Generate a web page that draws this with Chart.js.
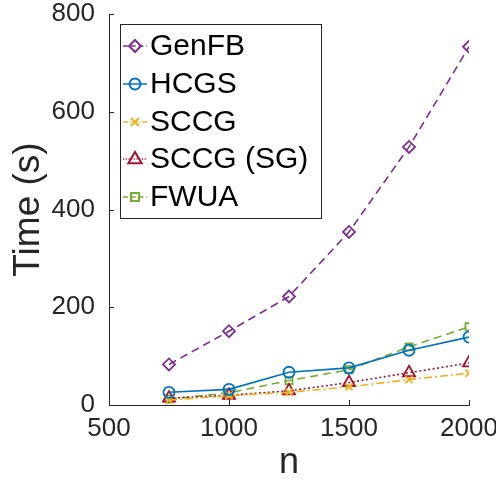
<!DOCTYPE html>
<html>
<head>
<meta charset="utf-8">
<script src="https://cdn.jsdelivr.net/npm/chart.js@4"></script>
<style>
  html, body { margin: 0; padding: 0; background: #fff; }
  #wrap { width: 496px; height: 485px; }
</style>
</head>
<body>
<div id="wrap"><canvas id="timeChart" width="496" height="485"></canvas></div>
<script>
const nValues = [750, 1000, 1250, 1500, 1750, 2000];
const genFB = [83, 151, 222, 354, 528, 733];
const hcgs = [26, 32, 67, 76, 112, 139];
const sccg = [10, 19, 26, 37, 52, 65];
const sccgSG = [14, 20, 29, 46, 66, 86];
const fwua = [12, 25, 50, 72, 119, 160];
const xTicks = [500, 1000, 1500, 2000];
const yTicks = [0, 200, 400, 600, 800];

const FONT = '"Liberation Sans", Arial, Helvetica, sans-serif';

const series = [
    { label: 'GenFB', data: genFB, color: '#7E2F8E', dash: [8, 5], point: 'rectRot', r: 6 },
    { label: 'HCGS', data: hcgs, color: '#0072BD', dash: [], point: 'circle', r: 5.5 },
    { label: 'SCCG', data: sccg, color: '#EDB120', dash: [8, 3, 2, 3], point: 'crossRot', r: 5 },
    { label: 'SCCG (SG)', data: sccgSG, color: '#A2142F', dash: [2, 2.5], point: 'triangle', r: 7 },
    { label: 'FWUA', data: fwua, color: '#77AC30', dash: [8, 5], point: 'rect', r: 5 }
];

function drawMarker(c, style, x, y, r) {
    c.beginPath();
    if (style === 'circle') {
        c.arc(x, y, r, 0, Math.PI * 2);
    } else if (style === 'rectRot') {
        c.moveTo(x, y - r); c.lineTo(x + r, y); c.lineTo(x, y + r); c.lineTo(x - r, y); c.closePath();
    } else if (style === 'crossRot') {
        const d = r * 0.8;
        c.moveTo(x - d, y - d); c.lineTo(x + d, y + d);
        c.moveTo(x + d, y - d); c.lineTo(x - d, y + d);
    } else if (style === 'triangle') {
        c.moveTo(x, y - r); c.lineTo(x + r * 0.95, y + r * 0.6); c.lineTo(x - r * 0.95, y + r * 0.6); c.closePath();
    } else if (style === 'rect') {
        c.rect(x - r * 0.8, y - r * 0.8, r * 1.6, r * 1.6);
    }
    c.stroke();
}

// inward ticks + box legend like the matlab figure
const matlabAxes = {
    id: 'matlabAxes',
    afterDraw(chart) {
        const c = chart.ctx;
        const xs = chart.scales.x, ys = chart.scales.y;
        const area = chart.chartArea;
        c.save();
        c.strokeStyle = '#262626';
        c.lineWidth = 1;
        c.setLineDash([]);
        xTicks.forEach(v => {
            const px = Math.round(xs.getPixelForValue(v)) + 0.5;
            c.beginPath(); c.moveTo(px, area.bottom); c.lineTo(px, area.bottom - 5); c.stroke();
        });
        yTicks.forEach(v => {
            const py = Math.round(ys.getPixelForValue(v)) + 0.5;
            c.beginPath(); c.moveTo(area.left, py); c.lineTo(area.left + 5, py); c.stroke();
        });

        // legend
        const bx = 120.5, by = 24.5, bw = 201, bh = 194;
        c.fillStyle = '#fff';
        c.fillRect(bx, by, bw, bh);
        c.strokeStyle = '#262626';
        c.strokeRect(bx, by, bw, bh);
        const rows = [46, 84, 122, 159, 197];
        c.font = '30px ' + FONT;
        c.textBaseline = 'middle';
        series.forEach((s, i) => {
            const y = rows[i];
            c.strokeStyle = s.color;
            c.lineWidth = 1.5;
            c.setLineDash(s.dash.length ? s.dash.map(d => d * 0.6) : []);
            c.beginPath(); c.moveTo(123, y); c.lineTo(147, y); c.stroke();
            c.setLineDash([]);
            c.lineWidth = 2;
            drawMarker(c, s.point, 135, y, s.r);
            c.fillStyle = '#000';
            c.fillText(s.label, 150, y + 1);
        });
        c.restore();
    }
};

const ctx = document.getElementById('timeChart').getContext('2d');
const timeChart = new Chart(ctx, {
    type: 'line',
    data: {
        datasets: series.map(s => ({
            label: s.label,
            data: nValues.map((n, i) => ({ x: n, y: s.data[i] })),
            borderColor: s.color,
            borderWidth: 1.6,
            borderDash: s.dash,
            tension: 0,
            fill: false,
            pointStyle: s.point,
            pointRadius: s.r,
            pointBorderWidth: 1.8,
            pointBorderColor: s.color,
            pointBackgroundColor: 'rgba(0,0,0,0)'
        }))
    },
    options: {
        responsive: false,
        animation: false,
        layout: { padding: { top: 0, right: 0, left: 0, bottom: 0 } },
        plugins: { legend: { display: false }, tooltip: { enabled: false } },
        scales: {
            x: {
                type: 'linear',
                min: 500,
                max: 2000,
                afterBuildTicks: s => { s.ticks = xTicks.map(v => ({ value: v })); },
                afterFit: s => { s.height = 80; s.paddingLeft = 0; s.paddingRight = 27; },
                grid: { drawOnChartArea: false, drawTicks: false, color: '#262626' },
                border: { color: '#262626', width: 1 },
                ticks: { color: '#262626', font: { family: FONT, size: 26 }, padding: 8, maxRotation: 0, callback: v => String(v) },
                title: { display: true, text: 'n', color: '#262626', font: { family: FONT, size: 36 }, padding: { top: 5, bottom: 0 } }
            },
            y: {
                min: 0,
                max: 800,
                afterBuildTicks: s => { s.ticks = yTicks.map(v => ({ value: v })); },
                afterFit: s => { s.width = 109; s.paddingTop = 14; s.paddingBottom = 0; },
                grid: { drawOnChartArea: false, drawTicks: false, color: '#262626' },
                border: { color: '#262626', width: 1 },
                ticks: { color: '#262626', font: { family: FONT, size: 26, lineHeight: 1.1 }, padding: 14, callback: v => String(v) },
                title: { display: true, text: 'Time (s)', color: '#262626', font: { family: FONT, size: 37 }, padding: { top: 7, bottom: 2 } }
            }
        }
    },
    plugins: [matlabAxes]
});
</script>
</body>
</html>
